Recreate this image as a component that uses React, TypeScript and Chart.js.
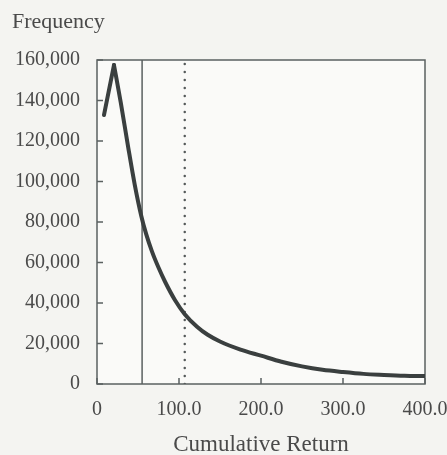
import React, { useEffect, useRef } from "react";
import { Chart, registerables } from "chart.js";

Chart.register(...registerables);

// Curve: cumulative return (x) vs frequency (y)
const returnValues = [8.5, 20.7, 29, 38, 46, 54, 60, 67, 75, 83, 95, 107, 122, 135, 150, 175, 200, 225, 250, 275, 300, 325, 350, 375, 400];
const frequencyValues = [132800, 157500, 139000, 117000, 98500, 83000, 74000, 65500, 57500, 50500, 41500, 34500, 28300, 24300, 21000, 17000, 14000, 11000, 8700, 7000, 5900, 5000, 4500, 4100, 3900];

// Reference lines
const solidMarker = 55;
const dottedMarker = 107;

// Axes
const xTickValues = [0, 100, 200, 300, 400];
const xTickLabels = ["0", "100.0", "200.0", "300.0", "400.0"];
const yTickValues = [0, 20000, 40000, 60000, 80000, 100000, 120000, 140000, 160000];
const yTickLabels = ["0", "20,000", "40,000", "60,000", "80,000", "100,000", "120,000", "140,000", "160,000"];
const xAxisTitle = "Cumulative Return";
const yAxisTitle = "Frequency";

const TEXT = "#4a4a4a";
const LINE = "#3a3f3f";
const FRAME = "#5a6060";
const FONT = "'Liberation Serif', 'Times New Roman', serif";

export default function App() {
  const ref = useRef<HTMLCanvasElement | null>(null);

  useEffect(() => {
    if (!ref.current) return;
    const pts = returnValues.map((x, i) => ({ x, y: frequencyValues[i] }));
    const yMax = yTickValues[yTickValues.length - 1];

    const framePlugin = {
      id: "framePlugin",
      beforeDraw(chart: any) {
        const { ctx, chartArea: a } = chart;
        ctx.save();
        ctx.fillStyle = "#f4f4f1";
        ctx.fillRect(0, 0, chart.width, chart.height);
        ctx.fillStyle = "#fafaf8";
        ctx.fillRect(a.left, a.top, a.right - a.left, a.bottom - a.top);
        ctx.restore();
      },
      beforeDatasetsDraw(chart: any) {
        const { ctx, chartArea: a, scales } = chart;
        ctx.save();
        ctx.strokeStyle = FRAME;
        ctx.lineWidth = 1.5;
        ctx.strokeRect(a.left, a.top, a.right - a.left, a.bottom - a.top);
        ctx.beginPath();
        for (const v of yTickValues) {
          const y = scales.y.getPixelForValue(v);
          ctx.moveTo(a.left, y);
          ctx.lineTo(a.left + 6, y);
        }
        for (const v of xTickValues) {
          const x = scales.x.getPixelForValue(v);
          ctx.moveTo(x, a.bottom);
          ctx.lineTo(x, a.bottom - 6);
        }
        ctx.stroke();
        ctx.restore();
      },
      afterDraw(chart: any) {
        const { ctx, chartArea: a } = chart;
        ctx.save();
        ctx.fillStyle = TEXT;
        ctx.textBaseline = "alphabetic";
        ctx.font = `22px ${FONT}`;
        ctx.textAlign = "left";
        ctx.fillText(yAxisTitle, 12, 28);
        ctx.font = `23px ${FONT}`;
        ctx.textAlign = "center";
        ctx.fillText(xAxisTitle, (a.left + a.right) / 2, 451);
        ctx.restore();
      },
    };

    const chart = new Chart(ref.current, {
      type: "scatter",
      data: {
        datasets: [
          {
            data: pts.slice(0, 2),
            showLine: true,
            borderColor: LINE,
            borderWidth: 4,
            borderCapStyle: "round",
            tension: 0,
            pointRadius: 0,
          },
          {
            data: pts.slice(1),
            showLine: true,
            borderColor: LINE,
            borderWidth: 4,
            borderCapStyle: "round",
            cubicInterpolationMode: "monotone",
            pointRadius: 0,
          },
          {
            data: [
              { x: solidMarker, y: 0 },
              { x: solidMarker, y: yMax },
            ],
            showLine: true,
            borderColor: FRAME,
            borderWidth: 1.5,
            pointRadius: 0,
          },
          {
            data: [
              { x: dottedMarker, y: 0 },
              { x: dottedMarker, y: yMax },
            ],
            showLine: true,
            borderColor: "#555a5a",
            borderWidth: 2.5,
            borderDash: [0, 8],
            borderCapStyle: "round",
            pointRadius: 0,
          },
        ],
      } as any,
      options: {
        animation: false,
        responsive: false,
        layout: { padding: { top: 60, right: 22, bottom: 0, left: 0 } },
        plugins: { legend: { display: false }, tooltip: { enabled: false }, title: { display: false } },
        scales: {
          x: {
            type: "linear",
            min: xTickValues[0],
            max: xTickValues[xTickValues.length - 1],
            afterBuildTicks: (s: any) => {
              s.ticks = xTickValues.map((value) => ({ value }));
            },
            afterFit: (s: any) => {
              s.height = 71;
              s.paddingLeft = 0;
              s.paddingRight = 0;
            },
            grid: { display: false, drawTicks: false },
            border: { display: false },
            ticks: {
              autoSkip: false,
              maxRotation: 0,
              padding: 14,
              color: TEXT,
              font: { family: FONT, size: 20 },
              callback: (v: any) => xTickLabels[xTickValues.indexOf(Number(v))],
            },
          },
          y: {
            type: "linear",
            min: yTickValues[0],
            max: yMax,
            afterBuildTicks: (s: any) => {
              s.ticks = yTickValues.map((value) => ({ value }));
            },
            afterFit: (s: any) => {
              s.width = 97;
              s.paddingTop = 0;
              s.paddingBottom = 0;
            },
            grid: { display: false, drawTicks: false },
            border: { display: false },
            ticks: {
              autoSkip: false,
              padding: 17,
              color: TEXT,
              font: { family: FONT, size: 20 },
              callback: (v: any) => yTickLabels[yTickValues.indexOf(Number(v))],
            },
          },
        },
      } as any,
      plugins: [framePlugin],
    });
    return () => chart.destroy();
  }, []);

  return (
    <div style={{ position: "fixed", left: 0, top: 0, width: 447, height: 455, background: "#f4f4f1" }}>
      <canvas ref={ref} width={447} height={455} style={{ display: "block", width: 447, height: 455 }} />
    </div>
  );
}
